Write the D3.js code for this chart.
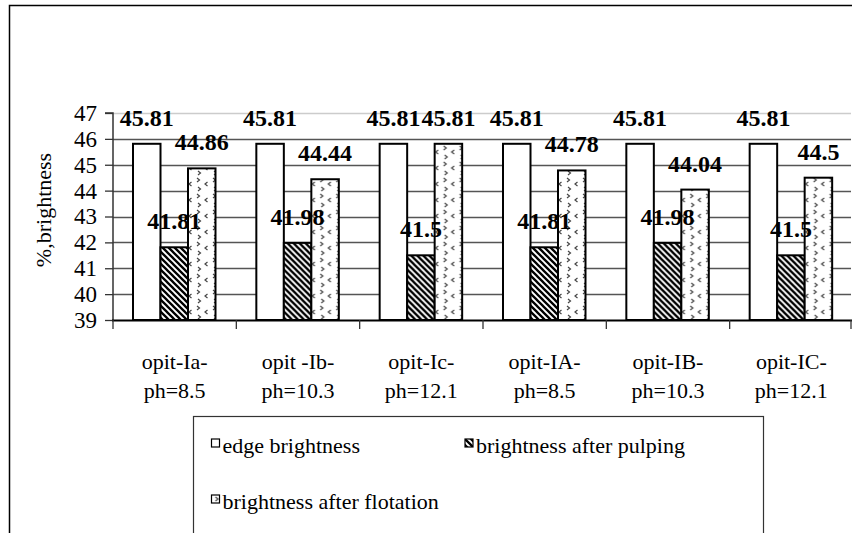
<!DOCTYPE html>
<html><head><meta charset="utf-8">
<script src="https://cdn.jsdelivr.net/npm/d3@7"></script>
<style>
html,body{margin:0;padding:0;background:#fff;}
svg{display:block;}
svg text{font-family:'Liberation Serif','Times New Roman',Times,serif;}
</style></head>
<body><svg id="chart" width="857" height="533"></svg>
<script>
// ---- data ----
const categoriesLine1 = ["opit-Ia-", "opit -Ib-", "opit-Ic-", "opit-IA-", "opit-IB-", "opit-IC-"];
const categoriesLine2 = ["ph=8.5", "ph=10.3", "ph=12.1", "ph=8.5", "ph=10.3", "ph=12.1"];
const seriesNames = ["edge brightness", "brightness after pulping", "brightness after flotation"];
const edgeBrightness = [45.81, 45.81, 45.81, 45.81, 45.81, 45.81];
const pulpingBrightness = [41.81, 41.98, 41.5, 41.81, 41.98, 41.5];
const flotationBrightness = [44.86, 44.44, 45.81, 44.78, 44.04, 44.5];
const yTicks = [39, 40, 41, 42, 43, 44, 45, 46, 47];
const yTitle = "%,brightness";

const seriesValues = [edgeBrightness, pulpingBrightness, flotationBrightness];
const FONT = "Liberation Serif";
const svg = d3.select("#chart");

// patterns
const defs = svg.append("defs");
const hatch = defs.append("pattern").attr("id","hatch").attr("patternUnits","userSpaceOnUse")
  .attr("width",6).attr("height",6);
hatch.append("rect").attr("width",6).attr("height",6).attr("fill","#fff");
hatch.append("path").attr("d","M0,0L6,6M-1,5L1,7M5,-1L7,1").attr("stroke","#000").attr("stroke-width",2.3);
const dots = defs.append("pattern").attr("id","dots").attr("patternUnits","userSpaceOnUse")
  .attr("width",16).attr("height",16).attr("x",2);
dots.append("rect").attr("width",16).attr("height",16).attr("fill","#fff");
dots.append("path").attr("d","M2,2L4.5,4L2,6 M12.5,6L10,8L12.5,10 M3,11L5.5,13L3,15")
  .attr("stroke","#444").attr("stroke-width",1.2).attr("fill","none");
const fills = ["#fff", "url(#hatch)", "url(#dots)"];

// scales
const x = d3.scaleBand().domain(d3.range(categoriesLine1.length)).range([113, 853]).padding(0);
const xs = d3.scaleBand().domain(d3.range(3)).range([20, 20 + 82.5]).padding(0);
const y = d3.scaleLinear().domain([39, 47]).range([320, 113]);

// outer frame
svg.append("path").attr("d","M9.5,533V5.5H852").attr("fill","none").attr("stroke","#000").attr("stroke-width",1.5);

// gridlines
svg.append("g").selectAll("line").data(yTicks.filter(t => t > 39)).join("line")
  .attr("x1",113).attr("x2",851).attr("y1",d=>Math.round(y(d))+0.5).attr("y2",d=>Math.round(y(d))+0.5)
  .attr("stroke",d=> d===47 ? "#ccc" : "#555").attr("stroke-width",1.3);

// y axis
const yAxis = svg.append("g").attr("transform","translate(113,0)")
  .call(d3.axisLeft(y).tickValues(yTicks).tickSize(8).tickPadding(8).tickFormat(d3.format("d")));
yAxis.attr("font-family", FONT).attr("font-size", 23);
yAxis.select(".domain").attr("stroke","#333").attr("stroke-width",1.5).attr("d","M-8,"+y(47)+"H0V"+y(39));
yAxis.selectAll(".tick line").attr("stroke","#333").attr("stroke-width",1.3);
yAxis.selectAll(".tick text").attr("fill","#000");

// y title
svg.append("text").attr("transform","translate(51,210) rotate(-90)").attr("text-anchor","middle")
  .attr("font-family", FONT).attr("font-size",22).attr("fill","#000").text(yTitle);

// bars
const groups = svg.append("g").selectAll("g").data(d3.range(categoriesLine1.length)).join("g")
  .attr("transform", i => `translate(${x(i)},0)`);
groups.selectAll("rect").data(i => seriesValues.map((s,k)=>({k, v:s[i]}))).join("rect")
  .attr("x", d => xs(d.k)).attr("width", xs.bandwidth())
  .attr("y", d => y(d.v)).attr("height", d => y(39) - y(d.v))
  .attr("fill", d => fills[d.k]).attr("stroke","#000").attr("stroke-width",2);

// value labels
groups.selectAll("text").data(i => seriesValues.map((s,k)=>({k, v:s[i]}))).join("text")
  .attr("x", d => xs(d.k) + xs.bandwidth()/2).attr("y", d => y(d.v) - 18)
  .attr("text-anchor","middle").attr("font-family", FONT).attr("font-size",24).attr("font-weight","bold").attr("fill","#000")
  .text(d => d3.format("")(d.v));

// x axis
const bounds = d3.range(categoriesLine1.length).map(i => x(i)).concat([x.range()[1] - 2]);
svg.append("line").attr("x1",112).attr("x2",852).attr("y1",320.5).attr("y2",320.5).attr("stroke","#000").attr("stroke-width",2.2);
svg.append("g").selectAll("line").data(bounds).join("line")
  .attr("x1",d=>d).attr("x2",d=>d).attr("y1",320).attr("y2",329).attr("stroke","#333").attr("stroke-width",1.3);
const xl = svg.append("g").selectAll("text").data(d3.range(categoriesLine1.length)).join("text")
  .attr("text-anchor","middle").attr("font-family", FONT).attr("font-size",22).attr("fill","#000");
xl.append("tspan").attr("x", i => x(i) + x.bandwidth()/2).attr("y",369).text(i => categoriesLine1[i]);
xl.append("tspan").attr("x", i => x(i) + x.bandwidth()/2).attr("y",398).text(i => categoriesLine2[i]);

// legend
svg.append("rect").attr("x",193.5).attr("y",416.5).attr("width",570).attr("height",200)
  .attr("fill","none").attr("stroke","#333").attr("stroke-width",1.2);
const legendPos = [[211.5,439],[465,439],[211.5,495]];
const leg = svg.append("g").selectAll("g").data(seriesNames).join("g")
  .attr("transform",(d,i)=>`translate(${legendPos[i][0]},${legendPos[i][1]})`);
leg.append("rect").attr("width",8).attr("height",8).attr("fill",(d,i)=>fills[i]).attr("stroke","#000").attr("stroke-width",1.2);
leg.append("text").attr("x",11).attr("y",14).attr("font-family", FONT).attr("font-size",22).attr("fill","#000").text(d=>d);
</script></body></html>
